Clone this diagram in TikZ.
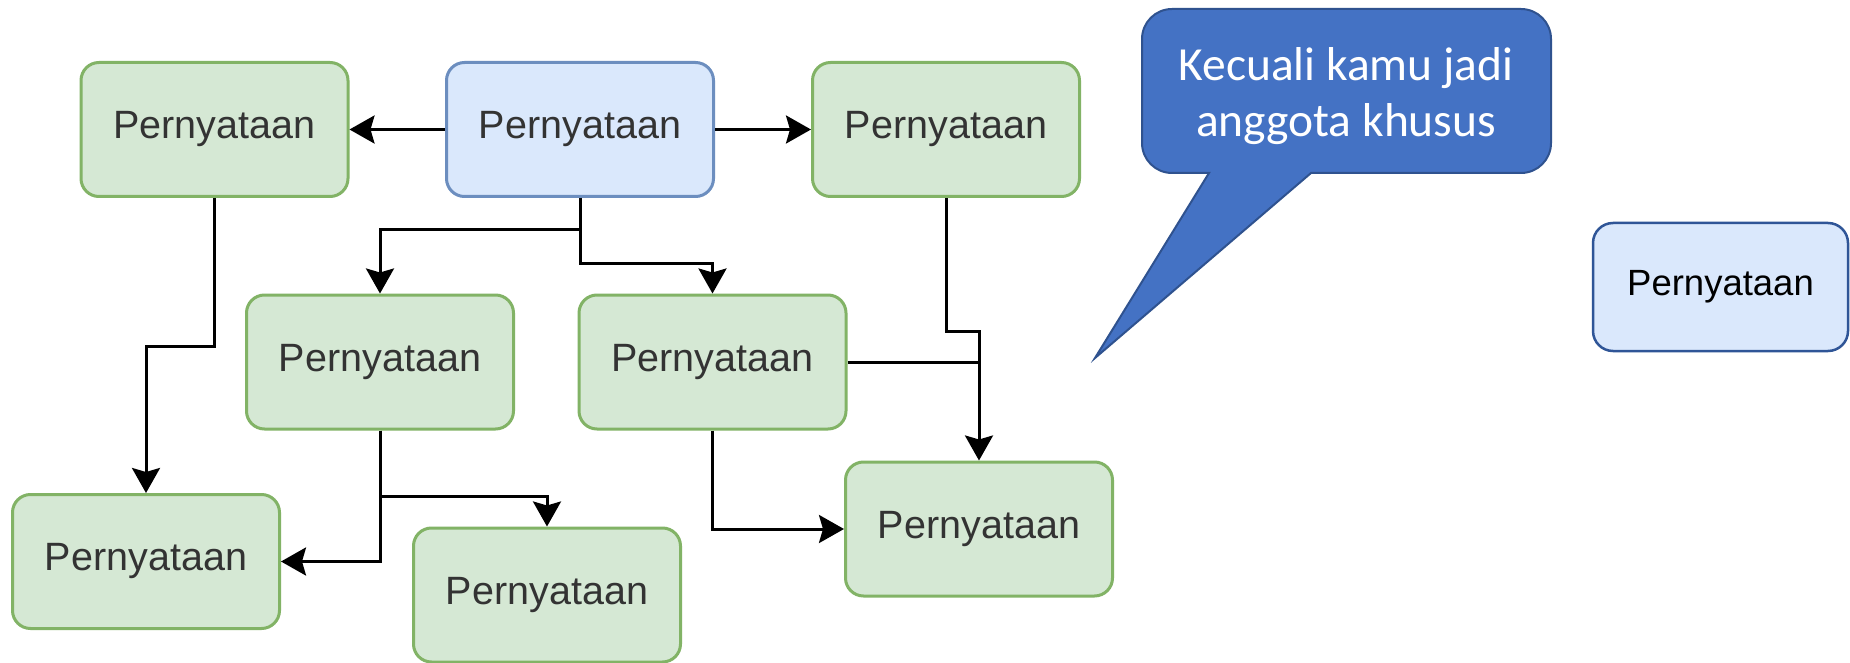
\documentclass[tikz,border=0pt]{standalone}
\usepackage{fontspec}
\setmainfont{Liberation Sans}
\newfontfamily\calib{Carlito}
\usetikzlibrary{arrows.meta}
\definecolor{gfill}{HTML}{D5E8D4}
\definecolor{gline}{HTML}{82B366}
\definecolor{bfill}{HTML}{DAE8FC}
\definecolor{bline}{HTML}{6C8EBF}
\definecolor{cfill}{HTML}{4472C4}
\definecolor{cline}{HTML}{2F528F}
\definecolor{ifill}{HTML}{DAE8FC}
\definecolor{iline}{HTML}{2F5597}
\definecolor{txt}{HTML}{333333}
\tikzset{
  gbox/.style={draw=gline, fill=gfill, line width=3pt, rounded corners=18pt,
    minimum width=267pt, minimum height=134pt, inner sep=0pt, text=txt,
    font=\fontsize{39.5}{46}\selectfont},
  bbox/.style={gbox, draw=bline, fill=bfill},
  ibox/.style={draw=iline, fill=ifill, line width=2.5pt, rounded corners=20pt,
    minimum width=255pt, minimum height=128pt, inner sep=0pt, text=black,
    font=\fontsize{36.5}{44}\selectfont},
  conn/.style={line width=3pt, draw=black, -{Stealth[length=25pt, width=28pt, inset=4pt]}},
  plain/.style={line width=3pt, draw=black},
  callout/.style={draw=cline, fill=cfill, line width=2pt},
}
\begin{document}
\begin{tikzpicture}[x=1pt, y=-1pt]
\fill[white] (0,0) rectangle (1850,663);
\useasboundingbox (0,0) rectangle (1850,663);

\node[gbox] (A) at (214.5,129.5) {Pernyataan};
\node[bbox] (B) at (580,129.5) {Pernyataan};
\node[gbox] (G) at (946,129.5) {Pernyataan};
\node[gbox] (C) at (380,362) {Pernyataan};
\node[gbox] (D) at (712.5,362) {Pernyataan};
\node[gbox] (E) at (146,561.5) {Pernyataan};
\node[gbox] (F) at (547,595) {Pernyataan};
\node[gbox] (H) at (979,529) {Pernyataan};
\node[ibox] (I) at (1720.5,287) {Pernyataan};

\draw[callout, rounded corners=30pt] (1346,9) -- (1142,9) -- (1142,173)
  [sharp corners] -- (1209,173) -- (1095,358) -- (1311,173)
  [rounded corners=30pt] -- (1551,173) -- (1551,9) -- cycle;
\node[text=white, font=\calib\fontsize{47.5}{56.5}\selectfont, align=center] (ct) at (1346,96)
  {Kecuali kamu jadi\\anggota khusus};

\draw[conn] (B.west) -- (A.east);
\draw[conn] (B.east) -- (G.west);
\draw[conn] (B.south) -- ++(0,32) -| (C.north);
\draw[conn] (B.south) -- ++(0,65) -| (D.north);
\draw[conn] (A.south) -- ++(0,148) -| (E.north);
\draw[conn] (C.south) -- ++(0,66) -| (F.north);
\draw[conn] (C.south) |- (E.east);
\draw[conn] (G.south) -- ++(0,133) -| (H.north);
\draw[plain] (D.east) -- (D.east -| H.north);
\draw[conn] (D.south) |- (H.west);
\end{tikzpicture}
\end{document}
